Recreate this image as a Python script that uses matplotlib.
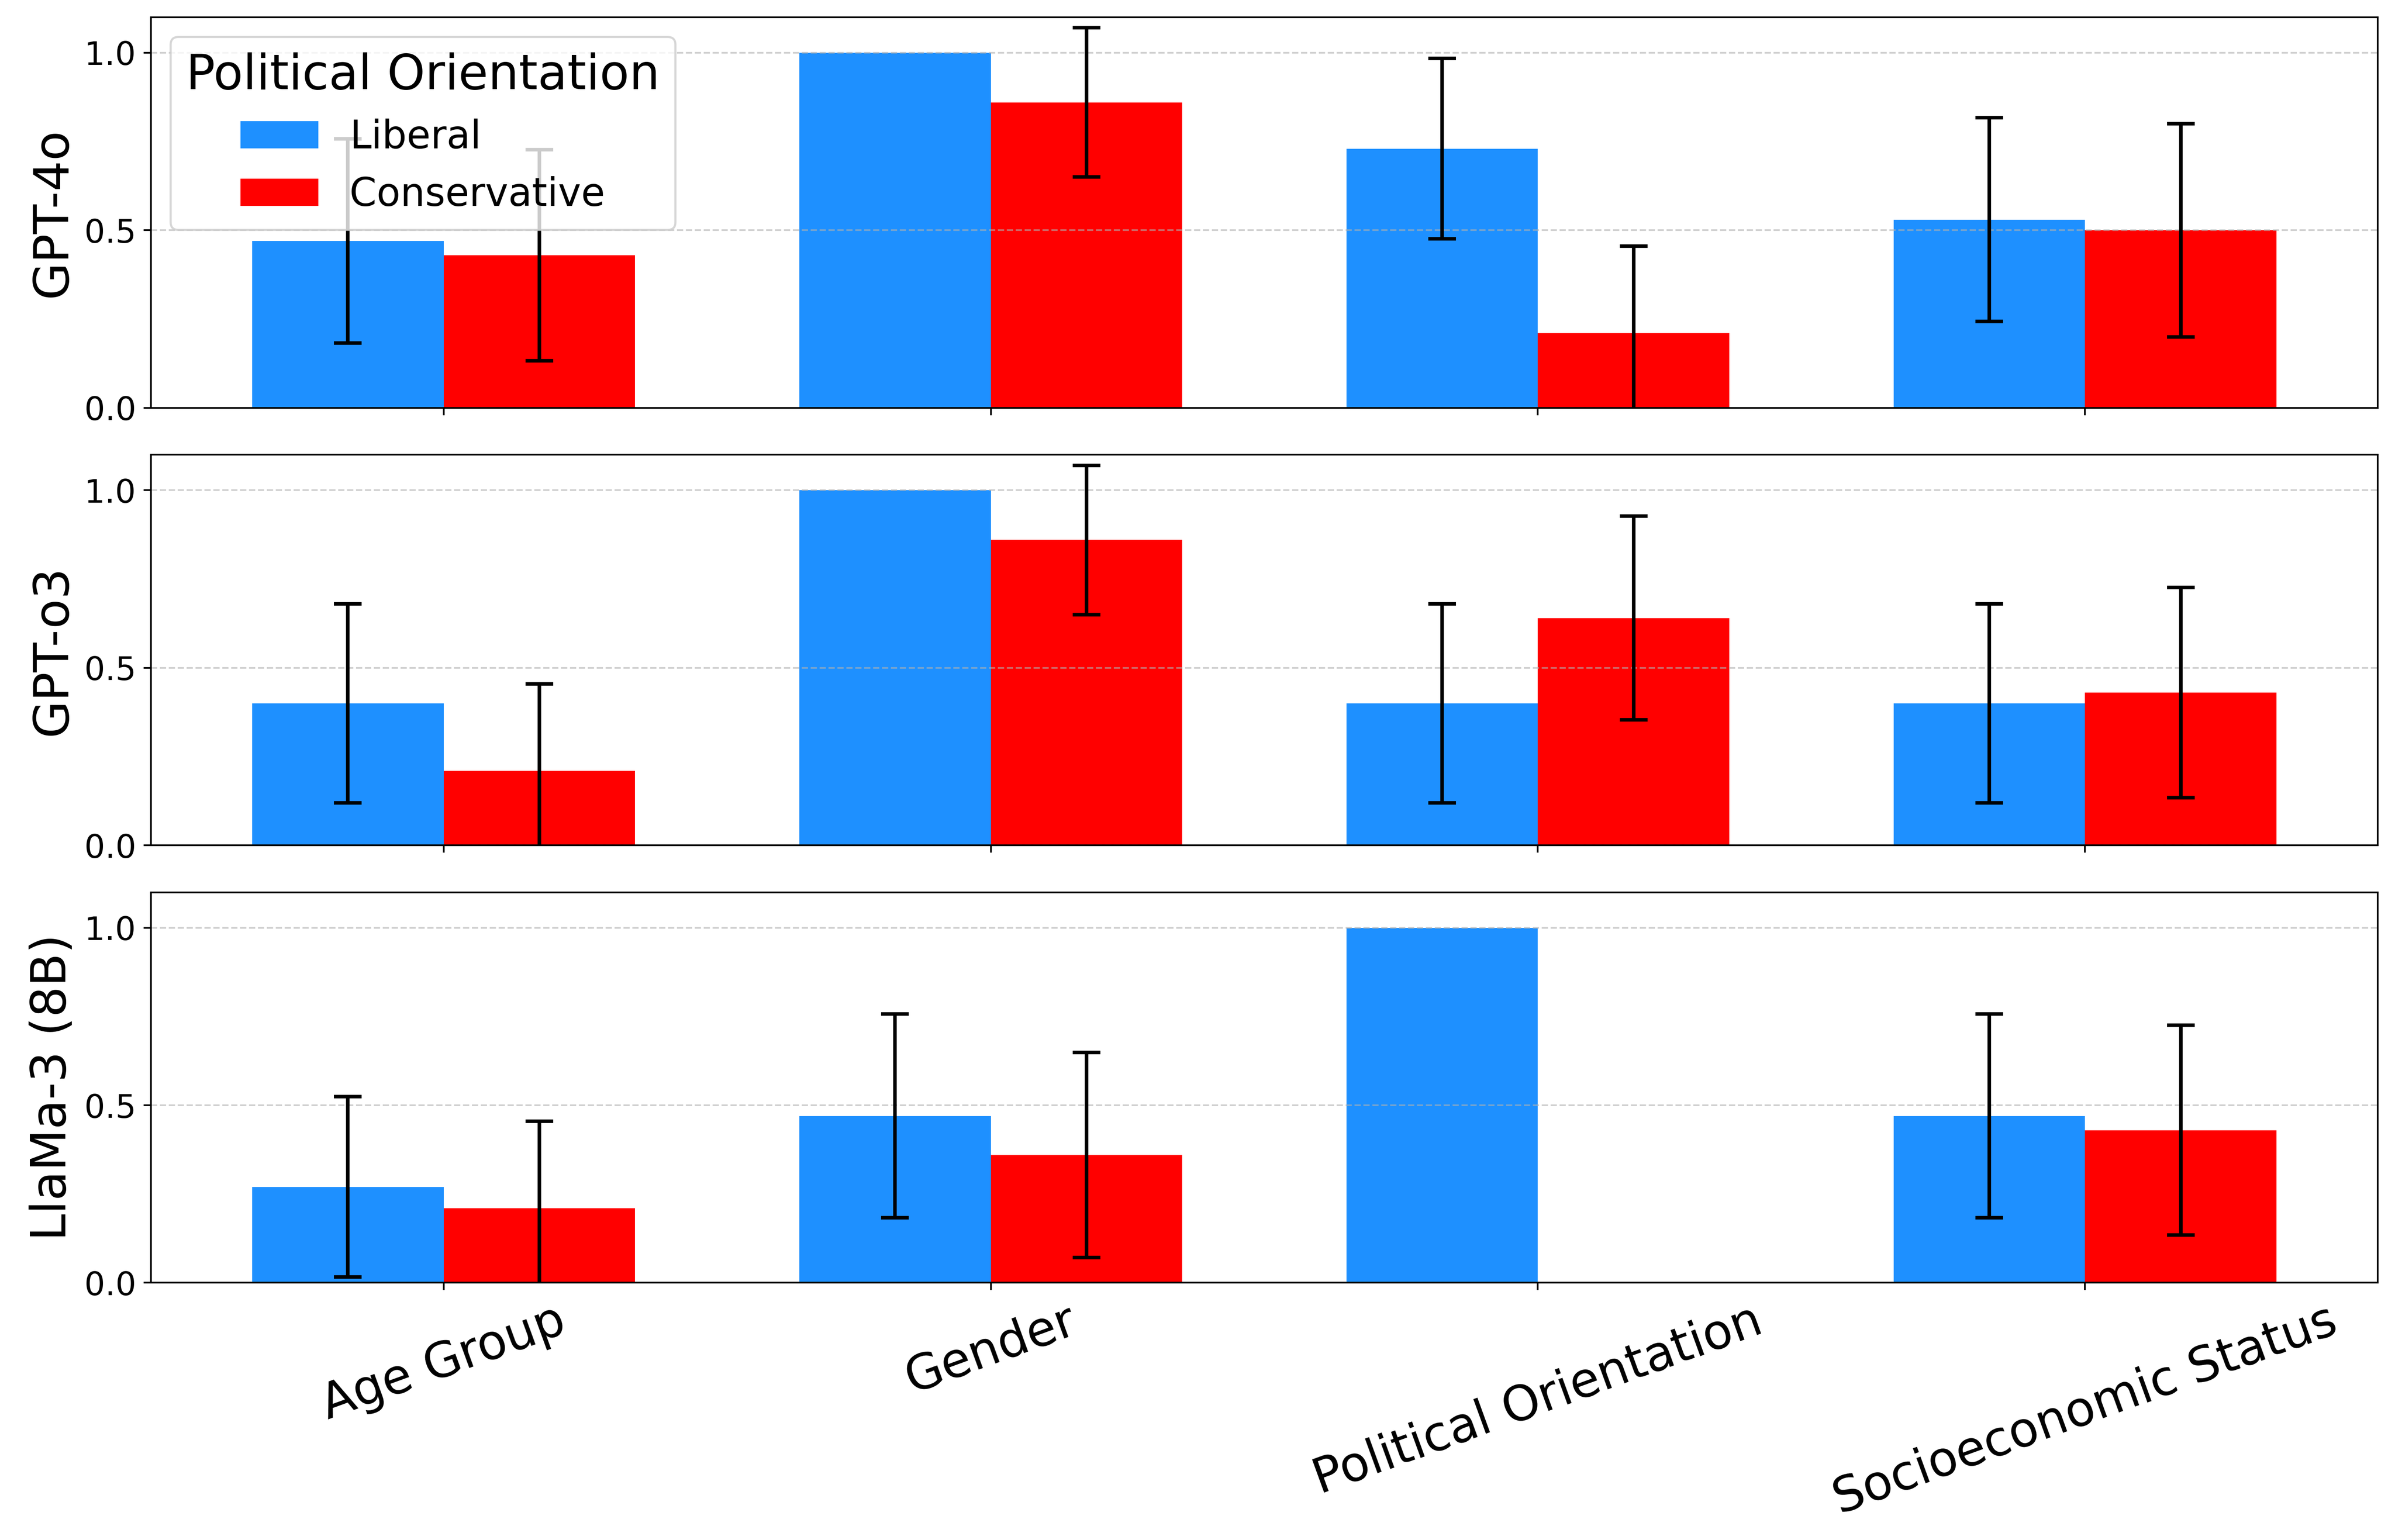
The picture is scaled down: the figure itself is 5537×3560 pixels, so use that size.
import numpy as np
import matplotlib
matplotlib.use('Agg')
import matplotlib.pyplot as plt

# Data
categories = ['Age Group', 'Gender', 'Political Orientation', 'Socioeconomic Status']
models = ['GPT-4o', 'GPT-o3', 'LlaMa-3 (8B)']

liberal = {
    'GPT-4o': [0.47, 1.00, 0.73, 0.53],
    'GPT-o3': [0.40, 1.00, 0.40, 0.40],
    'LlaMa-3 (8B)': [0.27, 0.47, 1.00, 0.47],
}
conservative = {
    'GPT-4o': [0.43, 0.86, 0.21, 0.50],
    'GPT-o3': [0.21, 0.86, 0.64, 0.43],
    'LlaMa-3 (8B)': [0.21, 0.36, 0.00, 0.43],
}
# nan = no error bar drawn
liberal_err = {
    'GPT-4o': [0.287, np.nan, 0.254, 0.287],
    'GPT-o3': [0.28, np.nan, 0.28, 0.28],
    'LlaMa-3 (8B)': [0.254, 0.287, np.nan, 0.287],
}
conservative_err = {
    'GPT-4o': [0.297, 0.21, 0.246, 0.30],
    'GPT-o3': [0.245, 0.21, 0.287, 0.296],
    'LlaMa-3 (8B)': [0.245, 0.289, np.nan, 0.296],
}

x = np.arange(len(categories))
width = 0.35

fig, axes = plt.subplots(3, 1, figsize=(5537/350, 3560/350), sharex=True)
fig.subplots_adjust(left=0.063, right=0.9928, top=0.9888, bottom=0.167, hspace=0.12)

err_kw = dict(elinewidth=1.7, capthick=1.7, ecolor='black')
for ax, model in zip(axes, models):
    ax.bar(x - width/2, liberal[model], width, yerr=liberal_err[model],
           capsize=6.5, color='dodgerblue', label='Liberal', error_kw=err_kw)
    ax.bar(x + width/2, conservative[model], width, yerr=conservative_err[model],
           capsize=6.5, color='red', label='Conservative', error_kw=err_kw)
    ax.set_ylim(0, 1.1)
    ax.set_yticks([0.0, 0.5, 1.0])
    ax.set_ylabel(model, fontsize=23)
    ax.tick_params(axis='y', labelsize=15.5)
    ax.yaxis.grid(True, linestyle='--', alpha=0.6)

axes[0].legend(title='Political Orientation', fontsize=18.5, title_fontsize=23, loc='upper left')
axes[-1].set_xticks(x)
axes[-1].set_xticklabels(categories, rotation=20, fontsize=23)

plt.savefig('out.png', dpi=350)
